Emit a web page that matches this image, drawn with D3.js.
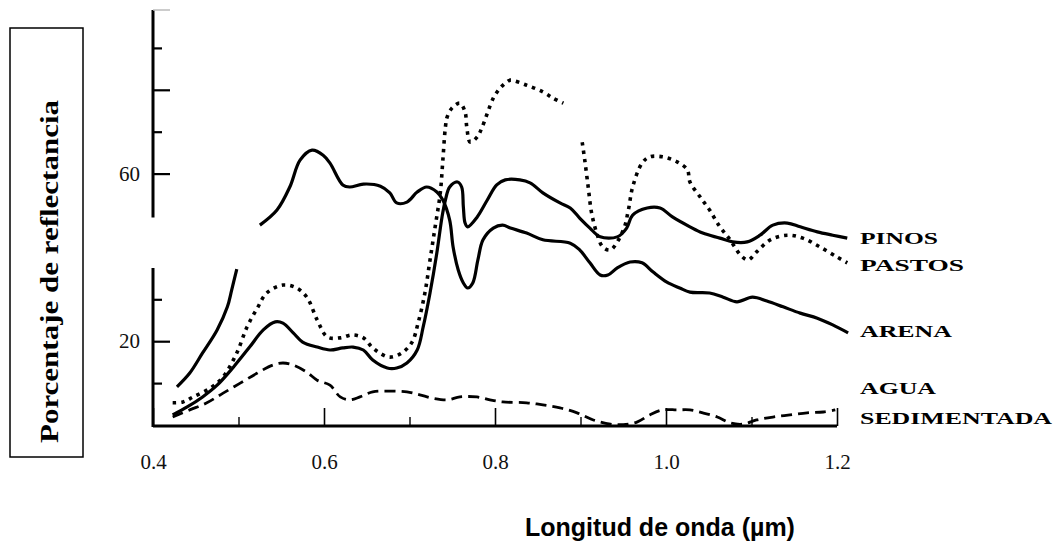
<!DOCTYPE html>
<html><head><meta charset="utf-8">
<script src="https://cdn.jsdelivr.net/npm/d3@7"></script>
<style>html,body{margin:0;padding:0;background:#fff;}svg{display:block;}</style>
</head><body>
<svg id="chart" width="1063" height="554"></svg>
<script>
// ---- data (wavelength µm, reflectance %) ----
const xTicksMajor = [0.4, 0.6, 0.8, 1.0, 1.2];
const xTicksMinor = [0.5, 0.7, 0.9, 1.1];
const yTicksLong = [20, 60, 80];
const yTicksShort = [10, 30, 70, 90];
const yTickLabels = [20, 60];
const seriesLabels = ["PINOS", "PASTOS", "ARENA", "AGUA", "SEDIMENTADA"];

const pinos = [[0.423,2.4],[0.440,4.3],[0.458,6.7],[0.475,9.5],[0.494,13.8],[0.513,18.6],[0.529,22.7],[0.543,24.6],[0.552,24.3],[0.564,22.0],[0.575,19.8],[0.592,18.6],[0.607,17.9],[0.622,18.4],[0.634,18.6],[0.646,17.9],[0.657,15.5],[0.674,13.6],[0.685,13.6],[0.697,14.8],[0.709,17.9],[0.716,23.4],[0.724,31.5],[0.732,41.1],[0.738,49.6],[0.742,53.7],[0.747,56.8],[0.756,58.0],[0.761,56.8],[0.763,52.0],[0.765,48.2],[0.768,47.3],[0.779,49.6],[0.791,53.7],[0.802,57.3],[0.812,58.5],[0.829,58.5],[0.841,57.8],[0.856,55.4],[0.876,53.0],[0.888,51.8],[0.899,49.4],[0.911,47.0],[0.923,44.9],[0.943,44.9],[0.954,47.0],[0.961,50.1],[0.978,51.8],[0.993,51.8],[1.008,49.6],[1.028,47.3],[1.043,45.8],[1.063,44.6],[1.078,43.7],[1.095,43.7],[1.110,45.3],[1.125,47.7],[1.142,48.2],[1.157,47.3],[1.177,46.1],[1.195,45.3],[1.212,44.6]];

const pastosA = [[0.423,5.3],[0.435,5.5],[0.447,6.7],[0.467,8.8],[0.482,11.5],[0.498,17.2],[0.510,23.4],[0.522,27.9],[0.533,31.5],[0.552,33.4],[0.568,32.7],[0.580,30.5],[0.592,25.1],[0.604,21.0],[0.619,20.8],[0.633,21.5],[0.646,20.8],[0.656,18.6],[0.665,17.2],[0.677,16.2],[0.691,17.2],[0.703,19.8],[0.710,24.3],[0.718,31.5],[0.724,39.4],[0.730,47.3],[0.736,55.4],[0.739,63.2],[0.742,71.1],[0.744,73.5],[0.750,75.7],[0.759,76.8],[0.765,74.7],[0.767,71.1],[0.771,67.5],[0.779,68.7],[0.785,71.1],[0.798,78.0],[0.806,80.4],[0.814,81.9],[0.818,82.3],[0.837,81.1],[0.856,79.5],[0.868,78.0],[0.880,76.8]];
const pastosB = [[0.902,67.5],[0.905,63.2],[0.909,56.8],[0.913,50.6],[0.919,45.8],[0.926,42.5],[0.935,41.8],[0.950,46.5],[0.956,51.3],[0.961,56.8],[0.972,62.5],[0.981,64.0],[0.996,64.0],[1.013,62.8],[1.025,60.9],[1.028,58.0],[1.040,54.4],[1.051,51.3],[1.063,47.3],[1.075,44.2],[1.087,40.6],[1.096,39.4],[1.106,41.3],[1.122,44.2],[1.142,45.3],[1.160,44.6],[1.180,42.5],[1.200,40.1],[1.212,38.7]];

const arenaA = [[0.428,9.1],[0.443,12.4],[0.458,17.2],[0.475,22.7],[0.487,28.2],[0.492,32.2],[0.498,37.2]];
const arenaB = [[0.525,47.7],[0.545,51.3],[0.560,56.8],[0.572,63.2],[0.586,65.6],[0.599,64.4],[0.607,62.5],[0.622,57.3],[0.630,56.8],[0.646,57.5],[0.666,57.0],[0.677,55.4],[0.685,53.0],[0.697,53.2],[0.709,55.6],[0.720,56.8],[0.732,55.6],[0.739,53.7],[0.747,48.9],[0.751,42.5],[0.757,37.0],[0.763,33.9],[0.768,32.7],[0.774,33.9],[0.780,39.4],[0.786,44.2],[0.798,47.0],[0.809,47.7],[0.818,47.0],[0.837,45.8],[0.856,44.2],[0.888,43.4],[0.899,41.8],[0.911,38.7],[0.923,35.8],[0.932,35.8],[0.943,37.5],[0.958,38.9],[0.972,38.7],[0.985,36.5],[1.001,34.1],[1.016,32.7],[1.028,31.7],[1.051,31.5],[1.067,30.5],[1.083,29.4],[1.101,30.5],[1.118,29.6],[1.137,28.2],[1.157,26.7],[1.177,25.5],[1.195,23.9],[1.213,22.0]];

const agua = [[0.423,1.9],[0.443,3.6],[0.463,5.3],[0.482,7.6],[0.502,10.0],[0.522,12.4],[0.540,14.3],[0.552,14.8],[0.564,14.3],[0.580,12.6],[0.592,10.7],[0.607,9.5],[0.619,6.7],[0.630,6.0],[0.642,6.7],[0.657,7.9],[0.677,8.1],[0.697,7.9],[0.712,7.2],[0.727,6.4],[0.744,6.0],[0.759,6.7],[0.779,6.7],[0.794,6.0],[0.809,5.5],[0.837,5.3],[0.856,4.8],[0.876,4.1],[0.896,2.9],[0.915,1.2],[0.935,0.2],[0.950,0.1],[0.966,0.7],[0.981,2.4],[0.996,3.6],[1.013,3.6],[1.028,3.6],[1.043,2.9],[1.060,1.9],[1.075,0.5],[1.090,0.2],[1.106,1.2],[1.125,1.9],[1.145,2.4],[1.165,2.9],[1.184,3.1],[1.198,3.6]];

// ---- drawing ----
const svg = d3.select("#chart");
const x = d3.scaleLinear().domain([0.4, 1.2]).range([153, 837]);
const y = d3.scaleLinear().domain([0, 100]).range([425, 6]);
const axisY0 = 426;
const tickFont = "Liberation Serif, Times New Roman, serif";

const line = d3.line().x(d => x(d[0])).y(d => y(d[1])).curve(d3.curveCatmullRom.alpha(0.5));

// x axis: major ticks with labels
const gxMaj = svg.append("g").attr("transform", `translate(0,${axisY0})`)
  .call(d3.axisBottom(x).tickValues(xTicksMajor).tickSize(-18).tickPadding(28).tickFormat(d3.format(".1f")));
gxMaj.select(".domain").attr("d", `M${x(0.4)},0H${x(1.2)}`).attr("stroke-width", 3);
gxMaj.selectAll(".tick line").attr("stroke-width", 1.6);
gxMaj.selectAll(".tick text").attr("font-family", tickFont).attr("font-size", 21).attr("fill", "#111");
const gxMin = svg.append("g").attr("transform", `translate(0,${axisY0})`)
  .call(d3.axisBottom(x).tickValues(xTicksMinor).tickSize(-9).tickFormat(""));
gxMin.select(".domain").remove();
gxMin.selectAll(".tick line").attr("stroke-width", 1.4);

// y axis (with gap in its line)
const gyL = svg.append("g").attr("transform", `translate(153,0)`)
  .call(d3.axisLeft(y).tickValues(yTicksLong).tickSize(-17).tickPadding(13)
    .tickFormat(d => yTickLabels.includes(d) ? d : ""));
gyL.select(".domain").remove();
gyL.selectAll(".tick line").attr("stroke-width", 2.2);
gyL.selectAll(".tick text").attr("font-family", tickFont).attr("font-size", 21).attr("fill", "#111");
const gyS = svg.append("g").attr("transform", `translate(153,0)`)
  .call(d3.axisLeft(y).tickValues(yTicksShort).tickSize(-9).tickFormat(""));
gyS.select(".domain").remove();
gyS.selectAll(".tick line").attr("stroke-width", 2.2);
svg.append("path").attr("d", `M153,${y(100)+4}V${y(49.5)}M153,${y(37.5)}V${axisY0+1}`)
  .attr("stroke", "#000").attr("stroke-width", 3).attr("fill", "none");
svg.append("path").attr("d", `M153,${y(100)+4}h17`).attr("stroke", "#bbb").attr("stroke-width", 1.5);

// series
const solid = {width: 3.2, dash: null};
function draw(data, st) {
  svg.append("path").datum(data).attr("d", line)
    .attr("fill", "none").attr("stroke", "#000")
    .attr("stroke-width", st.width)
    .attr("stroke-dasharray", st.dash)
    .attr("stroke-linejoin", "round");
}
draw(arenaA, solid);
draw(arenaB, solid);
draw(pinos, solid);
draw(pastosA, {width: 3.6, dash: "3.5,5"});
draw(pastosB, {width: 3.6, dash: "3.5,5"});
draw(agua, {width: 2.8, dash: "11,6"});

// series labels
const labelX = x(1.2) + 23;
const labelData = [
  {t: seriesLabels[0], yy: y(pinos[pinos.length-1][1]) + 6, w: 78},
  {t: seriesLabels[1], yy: y(pastosB[pastosB.length-1][1]) + 8, w: 104},
  {t: seriesLabels[2], yy: y(arenaB[arenaB.length-1][1]) + 4, w: 92},
  {t: seriesLabels[3], yy: y(agua[agua.length-1][1]) - 16, w: 76},
  {t: seriesLabels[4], yy: y(agua[agua.length-1][1]) + 14, w: 192}
];
svg.selectAll("text.lab").data(labelData).join("text").attr("class", "lab")
  .attr("x", labelX).attr("y", d => d.yy)
  .attr("textLength", d => d.w).attr("lengthAdjust", "spacingAndGlyphs")
  .attr("font-family", "Liberation Serif, Times New Roman, serif").attr("font-weight", "bold")
  .attr("font-size", 17).attr("fill", "#000").text(d => d.t);

// y title box
svg.append("rect").attr("x", 10).attr("y", 28).attr("width", 73).attr("height", 429)
  .attr("fill", "none").attr("stroke", "#000").attr("stroke-width", 1.5);
svg.append("text").attr("transform", "translate(58,443) rotate(-90)")
  .attr("textLength", 343).attr("lengthAdjust", "spacingAndGlyphs")
  .attr("font-family", "Liberation Serif, Times New Roman, serif").attr("font-weight", "bold")
  .attr("font-size", 26).attr("fill", "#000").text("Porcentaje de reflectancia");

// x title
svg.append("text").attr("x", 660).attr("y", 536).attr("text-anchor", "middle")
  .attr("font-family", "Liberation Sans, Arial, sans-serif").attr("font-weight", "bold")
  .attr("font-size", 25).attr("fill", "#000").text("Longitud de onda (µm)");
</script>
</body></html>
